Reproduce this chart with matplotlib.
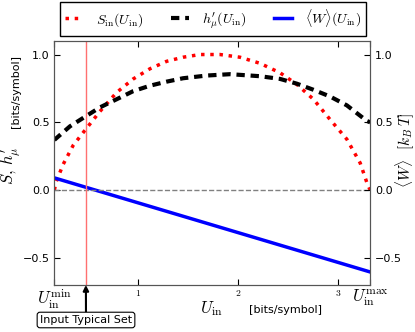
import numpy as np
import matplotlib
matplotlib.use("Agg")
import matplotlib.pyplot as plt

plt.rcParams['mathtext.fontset'] = 'cm'

# Data
u_min, u_max = 0.165, 3.32
s_x = [0.165, 0.18, 0.253, 0.353, 0.48, 0.62, 0.787, 0.953, 1.12, 1.287, 1.45, 1.62, 1.82,
       2.02, 2.22, 2.42, 2.587, 2.753, 2.92, 3.087, 3.22, 3.287, 3.32]
s_y = [0.0, 0.055, 0.19, 0.33, 0.45, 0.58, 0.72, 0.82, 0.895, 0.95, 0.98, 1.0, 1.0,
       0.98, 0.935, 0.865, 0.78, 0.67, 0.52, 0.375, 0.20, 0.055, 0.0]
h_x = [0.165, 0.32, 0.48, 0.62, 0.787, 0.953, 1.12, 1.287, 1.45, 1.687, 1.92, 2.22,
       2.42, 2.587, 2.753, 2.92, 3.087, 3.287, 3.32]
h_y = [0.37, 0.47, 0.545, 0.61, 0.67, 0.73, 0.77, 0.80, 0.825, 0.845, 0.855, 0.84,
       0.82, 0.785, 0.74, 0.69, 0.625, 0.51, 0.5]
w_x = [0.165, 3.32]
w_y = [0.09, -0.604]
typical_x = 0.48

xtick_vals = [u_min, 1, 2, 3, u_max]
xtick_labels = [r'$U_{\rm in}^{\rm min}$', r'$1$', r'$2$', r'$3$', r'$U_{\rm in}^{\rm max}$']
ytick_vals = [-0.5, 0.0, 0.5, 1.0]

fig = plt.figure(figsize=(4.15, 3.32), dpi=100)
ax = fig.add_axes([0.131, 0.1416, 0.761, 0.735])

l1, = ax.plot(s_x, s_y, color='red', linestyle=':', linewidth=2.5,
              label=r'$S_{\rm in}(U_{\rm in})$')
l2, = ax.plot(h_x, h_y, color='black', linestyle='--', linewidth=3, dashes=(2, 1.4),
              label=r"$h_\mu^{\prime}(U_{\rm in})$")
l3, = ax.plot(w_x, w_y, color='blue', linestyle='-', linewidth=2.5,
              label=r'$\langle W\rangle(U_{\rm in})$')
ax.axhline(0, color='gray', linestyle='--', linewidth=1)
ax.axvline(typical_x, color='#ff7070', linewidth=1)

ax.set_xlim(u_min, u_max)
ax.set_ylim(-0.7, 1.1)
ax.set_xticks(xtick_vals)
ax.set_xticklabels(xtick_labels)
for lab in ax.get_xticklabels():
    if 'U' in lab.get_text():
        lab.set_fontsize(12)
    else:
        lab.set_fontsize(7)
ax.set_yticks(ytick_vals)
ax.tick_params(axis='y', labelsize=8)
ax.tick_params(direction='in', top=True, right=True, length=4)
ax.tick_params(axis='x', pad=2)

ax2 = ax.twinx()
ax2.set_ylim(-0.7, 1.1)
ax2.set_yticks(ytick_vals)
ax2.tick_params(axis='y', labelsize=8, direction='in', length=4)

for a in (ax, ax2):
    for sp in a.spines.values():
        sp.set_color('#555555')

# axis labels (placed as in the reference)
fig.text(11 / 415, 1 - 166 / 332, r"$S,\, h_\mu^{\prime}$", rotation=90, ha='center', va='center', fontsize=12)
fig.text(16 / 415, 1 - 91 / 332, "[bits/symbol]", rotation=90, ha='center', va='center', fontsize=8)
fig.text(211 / 415, 1 - 309 / 332, r"$U_{\rm in}$", ha='center', va='center', fontsize=12)
fig.text(285 / 415, 1 - 310 / 332, "[bits/symbol]", ha='center', va='center', fontsize=8)
fig.text(405 / 415, 1 - 150 / 332, r"$\langle W\rangle$  $[k_B\, T]$", rotation=90,
         ha='center', va='center', fontsize=11)

ax.annotate('Input Typical Set', xy=(typical_x, -0.7), xycoords='data',
            xytext=(86 / 415, 1 - 320 / 332), textcoords='figure fraction',
            ha='center', va='center', fontsize=8,
            bbox=dict(boxstyle='round,pad=0.25', fc='white', ec='black', lw=0.8),
            arrowprops=dict(arrowstyle='-|>', color='black', lw=1.5, shrinkA=0, shrinkB=0),
            annotation_clip=False)

fig.legend(handles=[l1, l2, l3], loc='center', bbox_to_anchor=(213 / 415, 1 - 19 / 332),
           ncol=3, fontsize=10, fancybox=False, edgecolor='black', framealpha=1,
           handlelength=1.3, handletextpad=0.9, columnspacing=2.0, borderpad=0.4)

fig.savefig('out.png', dpi=100)
